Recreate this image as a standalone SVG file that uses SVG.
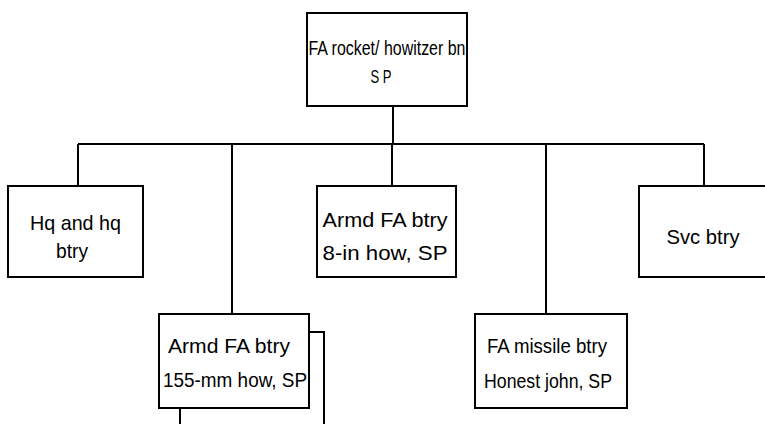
<svg xmlns="http://www.w3.org/2000/svg" width="765" height="424" viewBox="0 0 765 424">
<style>
.box{fill:#fff;stroke:#000;stroke-width:2}
.ln{fill:none;stroke:#000;stroke-width:2}
text{font-family:"Liberation Sans",Arial,sans-serif;font-size:21px;fill:#000;text-anchor:middle}
</style>
<rect width="765" height="424" fill="#fff"/>
<g id="connectors">
<path class="ln" d="M393 106V144M78 144H704M78 144V186M232 144V314M392 144V186M546 144V314M704 144V186"/>
<path class="ln" d="M309 332H324V424M180 408V424"/>
</g>
<g id="bn">
<rect class="box" x="307" y="13" width="160" height="93"/>
<text x="387" y="55" style="font-size:20px" textLength="157" lengthAdjust="spacingAndGlyphs">FA rocket/ howitzer bn</text>
<text x="381" y="83" style="font-size:18px" textLength="21" lengthAdjust="spacingAndGlyphs">S P</text>
</g>
<g id="hq">
<rect class="box" x="8" y="186" width="135" height="91"/>
<text x="75.5" y="230" textLength="91" lengthAdjust="spacingAndGlyphs">Hq and hq</text>
<text x="72" y="258" textLength="32" lengthAdjust="spacingAndGlyphs">btry</text>
</g>
<g id="armd8">
<rect class="box" x="317" y="186" width="139" height="91"/>
<text x="385" y="227" textLength="125" lengthAdjust="spacingAndGlyphs">Armd FA btry</text>
<text x="385" y="260" textLength="125" lengthAdjust="spacingAndGlyphs">8-in  how, SP</text>
</g>
<g id="svc">
<rect class="box" x="639" y="186" width="140" height="91"/>
<text x="703" y="244" textLength="73" lengthAdjust="spacingAndGlyphs">Svc btry</text>
</g>
<g id="armd155">
<rect class="box" x="159" y="314" width="150" height="94"/>
<text x="229" y="353" textLength="122" lengthAdjust="spacingAndGlyphs">Armd FA btry</text>
<text x="235" y="387" textLength="144" lengthAdjust="spacingAndGlyphs">155-mm how, SP</text>
</g>
<g id="missile">
<rect class="box" x="475" y="314" width="152" height="94"/>
<text x="547" y="353" textLength="120" lengthAdjust="spacingAndGlyphs">FA missile btry</text>
<text x="548" y="388" textLength="128" lengthAdjust="spacingAndGlyphs">Honest john, SP</text>
</g>
</svg>
